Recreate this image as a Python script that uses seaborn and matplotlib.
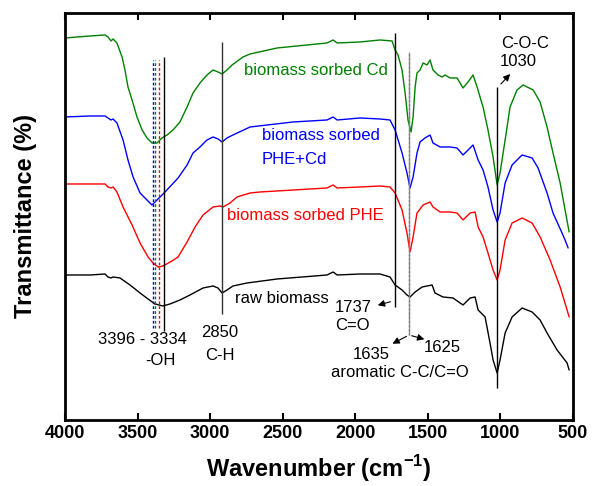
import pandas as pd
import seaborn as sns
import matplotlib.pyplot as plt

# FTIR spectra (transmittance in arbitrary offset units)
wn_cd = [4000, 3828, 3724, 3704, 3683, 3669, 3642, 3607, 3587, 3566, 3538, 3504, 3469, 3435, 3401, 3366,
         3332, 3297, 3256, 3208, 3159, 3118, 3070, 3022, 2980, 2946, 2918, 2884, 2849, 2774, 2725, 2539,
         2195, 2153, 2125, 1967, 1830, 1747, 1726, 1706, 1678, 1657, 1637, 1616, 1602, 1588, 1575, 1554,
         1533, 1506, 1485, 1465, 1430, 1402, 1382, 1347, 1299, 1258, 1223, 1189, 1161, 1141, 1120, 1086,
         1051, 1023, 1003, 968, 934, 886, 844, 775, 727, 679, 638, 589, 555, 527]
t_cd = [382, 384, 385, 383, 379, 381, 377, 363, 350, 333, 320, 303, 290, 282, 277, 277,
        282, 285, 290, 298, 313, 327, 337, 345, 350, 348, 346, 350, 355, 363, 366, 372,
        377, 380, 377, 378, 380, 379, 370, 365, 350, 327, 300, 288, 303, 333, 347, 350,
        357, 355, 360, 350, 345, 343, 345, 342, 342, 332, 338, 345, 333, 323, 313, 290,
        263, 235, 247, 280, 313, 330, 335, 330, 318, 293, 267, 237, 210, 188]

wn_phecd = [4000, 3828, 3724, 3704, 3683, 3669, 3642, 3600, 3566, 3531, 3483, 3435, 3401, 3366, 3311,
            3221, 3159, 3118, 3070, 3022, 2980, 2946, 2918, 2884, 2843, 2725, 2429, 2195, 2153, 2125,
            1967, 1830, 1761, 1726, 1678, 1644, 1623, 1602, 1575, 1554, 1520, 1485, 1465, 1416, 1347,
            1299, 1258, 1223, 1189, 1154, 1120, 1086, 1051, 1023, 1003, 968, 920, 851, 782, 741, 679,
            638, 576, 555, 534]
t_phecd = [303, 304, 304, 302, 300, 301, 297, 280, 260, 243, 227, 220, 215, 220, 228,
           242, 255, 267, 273, 280, 283, 281, 278, 282, 285, 293, 298, 300, 303, 300,
           302, 301, 300, 290, 267, 247, 232, 243, 267, 278, 282, 285, 277, 273, 273,
           272, 265, 270, 275, 260, 250, 233, 210, 198, 207, 237, 255, 265, 262, 252, 227,
           207, 187, 180, 172]

wn_phe = [4000, 3828, 3724, 3704, 3683, 3669, 3642, 3600, 3538, 3483, 3428, 3394, 3359, 3325, 3263,
          3221, 3159, 3104, 3049, 2980, 2932, 2911, 2863, 2815, 2725, 2656, 2195, 2153, 2125, 1967,
          1830, 1761, 1726, 1678, 1644, 1623, 1602, 1575, 1533, 1485, 1465, 1416, 1347, 1299, 1258,
          1209, 1175, 1154, 1120, 1086, 1051, 1023, 1003, 968, 920, 851, 782, 727, 658, 589, 541, 527]
t_phe = [236, 236, 236, 233, 232, 233, 228, 213, 195, 177, 163, 157, 153, 154, 159,
         163, 178, 193, 205, 213, 214, 213, 217, 223, 227, 228, 232, 235, 232, 233,
         234, 233, 227, 210, 187, 168, 183, 207, 215, 218, 213, 208, 208, 207, 200,
         207, 208, 193, 183, 167, 150, 140, 150, 180, 197, 202, 197, 183, 160, 133, 110, 103]

wn_raw = [4000, 3828, 3724, 3704, 3683, 3669, 3621, 3552, 3483, 3428, 3380, 3325, 3277, 3208, 3139,
          3049, 2980, 2946, 2918, 2884, 2843, 2746, 2539, 2195, 2153, 2125, 1967, 1830, 1761, 1726,
          1678, 1644, 1623, 1588, 1540, 1471, 1451, 1396, 1327, 1258, 1209, 1175, 1154, 1106, 1072,
          1051, 1023, 1003, 968, 920, 851, 782, 727, 679, 610, 541, 527]
t_raw = [145, 145, 146, 143, 142, 143, 142, 135, 127, 121, 116, 114, 116, 120, 125,
         132, 134, 132, 127, 130, 134, 137, 141, 145, 148, 145, 146, 146, 143, 135,
         130, 125, 123, 128, 133, 135, 127, 123, 122, 115, 122, 123, 110, 103, 77,
         60, 47, 60, 87, 103, 112, 108, 100, 87, 70, 57, 50]

series = [("biomass sorbed Cd", wn_cd, t_cd, "green"),
          ("biomass sorbed PHE+Cd", wn_phecd, t_phecd, "blue"),
          ("biomass sorbed PHE", wn_phe, t_phe, "red"),
          ("raw biomass", wn_raw, t_raw, "black")]

sns.set_style("ticks")
plt.rcParams['font.family'] = ['Liberation Sans', 'DejaVu Sans']
plt.rcParams['mathtext.fontset'] = 'custom'
plt.rcParams['mathtext.rm'] = 'Liberation Sans'
plt.rcParams['mathtext.bf'] = 'Liberation Sans:bold'
plt.rcParams['text.color'] = 'black'
plt.rcParams['axes.labelcolor'] = 'black'
plt.rcParams['xtick.color'] = 'black'
plt.rcParams['axes.edgecolor'] = 'black'

fig = plt.figure(figsize=(5.92, 4.86), dpi=100)
ax = fig.add_axes([0.1098, 0.1358, 0.8582, 0.8375])

for name, wn, t, col in series:
    df = pd.DataFrame({'wn': wn, 't': t})
    sns.lineplot(data=df, x='wn', y='t', color=col, lw=1.0, ax=ax, sort=False, estimator=None)

# peak marker lines
ax.vlines(3396, 92, 360, colors='blue', linestyles=(0, (2, 1.5)), lw=1.0)
ax.vlines(3377, 92, 360, colors='green', linestyles=(0, (2, 1.5)), lw=1.0)
ax.vlines(3352, 92, 360, colors='red', linestyles=(0, (2, 1.5)), lw=1.0)
ax.vlines(3320, 89, 363, colors='black', lw=1.0)
ax.vlines(2916, 106, 378, colors='#333333', lw=1.0)
ax.vlines(1726, 113, 387, colors='black', lw=1.0)
ax.vlines(1633, 85, 368, colors='#777777', linestyles=(0, (2, 1)), lw=1.0)
ax.vlines(1627, 85, 368, colors='#888888', linestyles=(1, (2, 1)), lw=1.0)
ax.vlines(1026, 32, 333, colors='black', lw=1.0)

fs = 12
ax.text(2767, 349, "biomass sorbed Cd", color='green', fontsize=fs, va='center')
ax.text(2643, 284, "biomass sorbed", color='blue', fontsize=fs, va='center')
ax.text(2643, 260, "PHE+Cd", color='blue', fontsize=fs, va='center')
ax.text(2884, 204, "biomass sorbed PHE", color='red', fontsize=fs, va='center')
ax.text(2829, 121, "raw biomass", color='black', fontsize=fs, va='center')
ax.text(3469, 80, "3396 - 3334", fontsize=fs, ha='center', va='center')
ax.text(3345, 59, "-OH", fontsize=fs, ha='center', va='center')
ax.text(2932, 87, "2850", fontsize=fs, ha='center', va='center')
ax.text(2932, 64, "C-H", fontsize=fs, ha='center', va='center')
ax.text(2016, 112, "1737", fontsize=fs, ha='center', va='center')
ax.text(2023, 94, "C=O", fontsize=fs, ha='center', va='center')
ax.text(1892, 65, "1635", fontsize=fs, ha='center', va='center')
ax.text(1402, 72, "1625", fontsize=fs, ha='center', va='center')
ax.text(1692, 47, "aromatic C-C/C=O", fontsize=fs, ha='center', va='center')
ax.text(831, 376, "C-O-C", fontsize=fs, ha='center', va='center')
ax.text(879, 358, "1030", fontsize=fs, ha='center', va='center')

arrow = dict(arrowstyle='-|>', color='black', lw=0.8, mutation_scale=10)
ax.annotate("", xy=(1864, 114), xytext=(1740, 119), arrowprops=arrow)
ax.annotate("", xy=(1761, 75), xytext=(1630, 85), arrowprops=arrow)
ax.annotate("", xy=(1506, 80), xytext=(1630, 85), arrowprops=arrow)
ax.annotate("", xy=(920, 348), xytext=(1010, 334), arrowprops=arrow)

ax.set_xlim(4000, 500)
ax.set_ylim(0, 407)
ax.set_xticks([4000, 3500, 3000, 2500, 2000, 1500, 1000, 500])
ax.set_yticks([])
ax.tick_params(axis='x', direction='in', top=True, length=5, width=1.5, labelsize=13)
for lab in ax.get_xticklabels():
    lab.set_fontweight('bold')
for sp in ax.spines.values():
    sp.set_visible(True)
    sp.set_linewidth(2)

ax.set_xlabel("Wavenumber (cm$^{\\mathbf{-1}}$)", fontsize=17, fontweight='bold', labelpad=8)
ax.set_ylabel("Transmittance (%)", fontsize=17, fontweight='bold', labelpad=20)

fig.savefig("out.png", dpi=100)
